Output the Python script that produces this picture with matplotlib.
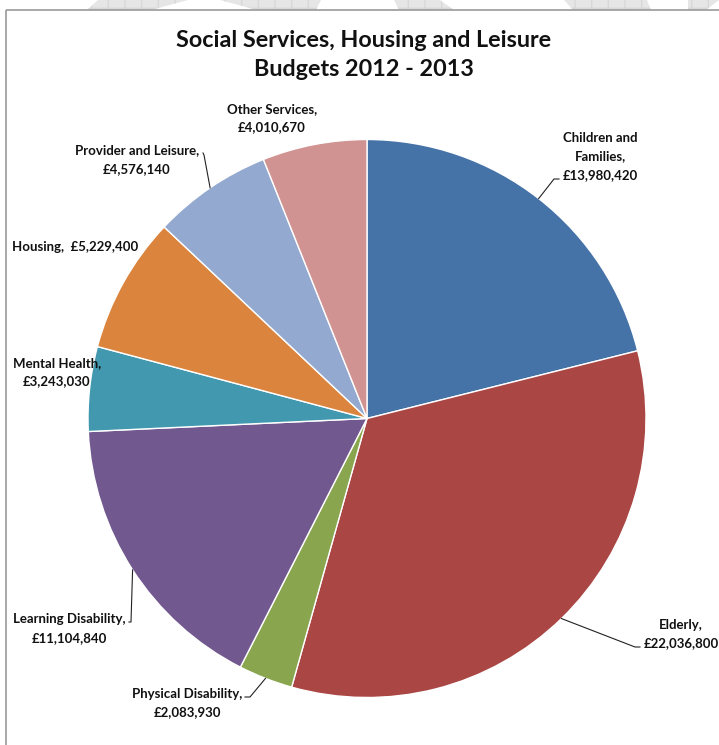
import numpy as np
import matplotlib
matplotlib.use("Agg")
import matplotlib.pyplot as plt
from matplotlib.patches import Rectangle, Polygon

plt.rcParams["font.family"] = ["Lato", "DejaVu Sans"]

# ── budget data ──────────────────────────────────────────────────────────
services = ["Children and\nFamilies", "Elderly", "Physical Disability",
            "Learning Disability", "Mental Health", "Housing",
            "Provider and Leisure", "Other Services"]
budgets = [13980420, 22036800, 2083930, 11104840,
           3243030, 5229400, 4576140, 4010670]
colours = ["#4572A7", "#AA4643", "#89A54E", "#71588F",
           "#4198AF", "#DB843D", "#93A9CF", "#D19392"]

# separator between name and amount in each label
separators = ["\n", "\n", "\n", "\n", "\n", "  ", "\n", "\n"]

# label block centres (pixels, y downwards)
label_pos = [(600, 156.5), (681, 634), (187, 703), (69, 628.5),
             (57, 372), (75, 247), (137, 159.5), (272, 118)]
# leader line bends: list of points after the wedge edge, or None
leaders = [[(554, 179), (559, 179)],
           [(635, 647), (640, 647)],
           [(250, 697), (245, 697)],
           [(131, 622), (129, 622)],
           None, None,
           [(204, 155), (203, 153)],
           None]

W, H = 719, 745
CX, CY, R = 367, 418.5, 279

fig = plt.figure(figsize=(W / 100, H / 100), dpi=100)
ax = fig.add_axes([0, 0, 1, 1])

wedges, _ = ax.pie(budgets, colors=colours, startangle=-90,
                   counterclock=True, center=(CX, CY), radius=R,
                   wedgeprops=dict(edgecolor="white", linewidth=1.0))

ax.set_xlim(0, W)
ax.set_ylim(H, 0)
ax.set_aspect("equal")
ax.axis("off")

# ── faint page watermark along the top edge ──────────────────────────────
marks = [[(87, 10), (151, 10), (188, 0), (98, 0)],
         [(257, 10), (316, 10), (321, 0), (220, 0)],
         [(399, 10), (454, 10), (440, 0), (394, 0)],
         [(573, 10), (651, 10), (647, 0), (564, 0)],
         [(688, 10), (706, 10), (719, 0), (688, 0)]]
for pts in marks:
    ax.add_patch(Polygon(pts, closed=True, facecolor="#e6e6e6",
                         edgecolor="#d8d8d8", hatch="+", linewidth=0,
                         zorder=0))

# chart frame
ax.add_patch(Rectangle((6, 10), 760, 760, fill=False, edgecolor="#9a9a9a",
                       linewidth=1.2, zorder=1, clip_on=False))

# ── title ────────────────────────────────────────────────────────────────
ax.text(364, 55, "Social Services, Housing and Leisure\nBudgets 2012 - 2013",
        ha="center", va="center", fontsize=16.8, fontweight="bold",
        color="#111111", linespacing=1.42)

# ── data labels with leader lines ────────────────────────────────────────
for w, name, val, sep, (lx, ly), lead in zip(wedges, services, budgets,
                                             separators, label_pos, leaders):
    ax.text(lx, ly, f"{name},{sep}£{val:,}", ha="center", va="center",
            fontsize=9.5, fontweight="bold", color="#111111",
            linespacing=1.68)
    if lead is None:
        continue
    mid = np.deg2rad((w.theta1 + w.theta2) / 2)
    ex, ey = CX + R * np.cos(mid), CY + R * np.sin(mid)
    xs = [ex] + [p[0] for p in lead]
    ys = [ey] + [p[1] for p in lead]
    ax.plot(xs, ys, color="#222222", linewidth=0.8, zorder=5)

fig.savefig("out.png", dpi=100, facecolor="white")
